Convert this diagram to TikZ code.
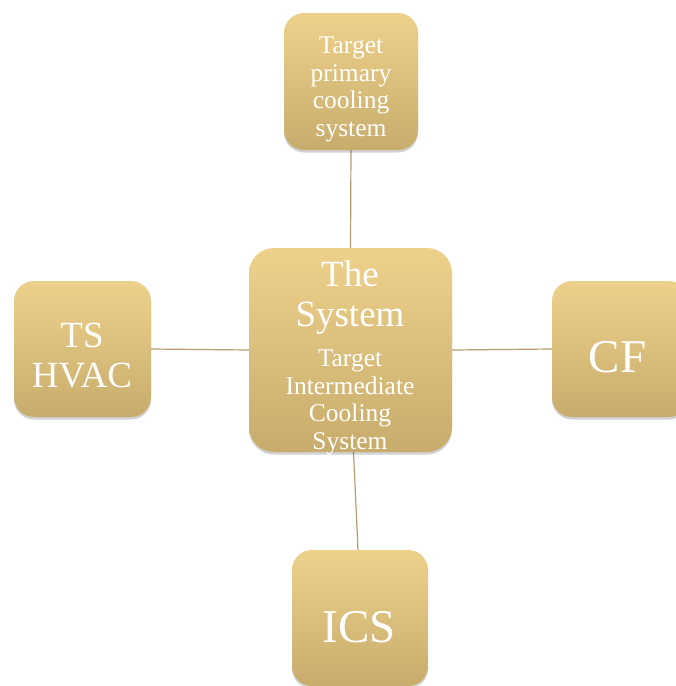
\documentclass[tikz,border=0pt]{standalone}
\usepackage{fontspec}
\setmainfont{Liberation Serif}
\usetikzlibrary{shadows,backgrounds}
\definecolor{boxtop}{HTML}{EDD18B}
\definecolor{boxbot}{HTML}{C8AC6C}
\definecolor{linkc}{HTML}{B49D70}
\tikzset{
  gbox/.style={rounded corners=20pt, top color=boxtop, bottom color=boxbot,
    draw=none, inner sep=0pt,
    drop shadow={shadow xshift=0pt, shadow yshift=-2.5pt, opacity=0.18, fill=black}},
  link/.style={draw=linkc, line width=1.2pt},
  wtext/.style={text=white, align=center, inner sep=0pt},
  small/.style={font=\fontsize{25.5}{27.5}\selectfont},
  mid/.style={font=\fontsize{37}{40}\selectfont},
  big/.style={font=\fontsize{47}{50}\selectfont}
}
\begin{document}
\begin{tikzpicture}[x=1pt,y=-1pt]
\useasboundingbox (0,0) rectangle (676,686);

% boxes
\node[gbox, minimum width=134pt, minimum height=137pt] (tp) at (351,81.5) {};
\node[gbox, rounded corners=25pt, minimum width=203pt, minimum height=204pt] (sys) at (350.5,350) {};
\node[gbox, minimum width=137pt, minimum height=136pt] (hv) at (82.5,349) {};
\node[gbox, minimum width=137pt, minimum height=136pt] (cf) at (620.5,349) {};
\node[gbox, minimum width=136pt, minimum height=136pt] (ics) at (360,618) {};

% labels
\node[wtext, small] (tpl) at (351,89.5) {Target\\primary\\cooling\\system};
\node[wtext, mid] (sysl) at (350,297.5) {The\\System};
\node[wtext, small] (sysd) at (350,402.5) {Target\\Intermediate\\Cooling\\System};
\node[wtext, mid] (hvl) at (82,356) {TS\\HVAC};
\node[wtext, big] (cfl) at (617.5,357) {CF};
\node[wtext, big] (icsl) at (359,627) {ICS};

% connectors behind the boxes
\begin{scope}[on background layer]
\draw[link] (tp.south) -- (sys.north);
\draw[link] (hv.east) -- (sys.west);
\draw[link] (sys.east) -- (cf.west);
\draw[link] ([xshift=3pt]sys.south) -- ([xshift=-2pt]ics.north);
\end{scope}
\end{tikzpicture}
\end{document}
